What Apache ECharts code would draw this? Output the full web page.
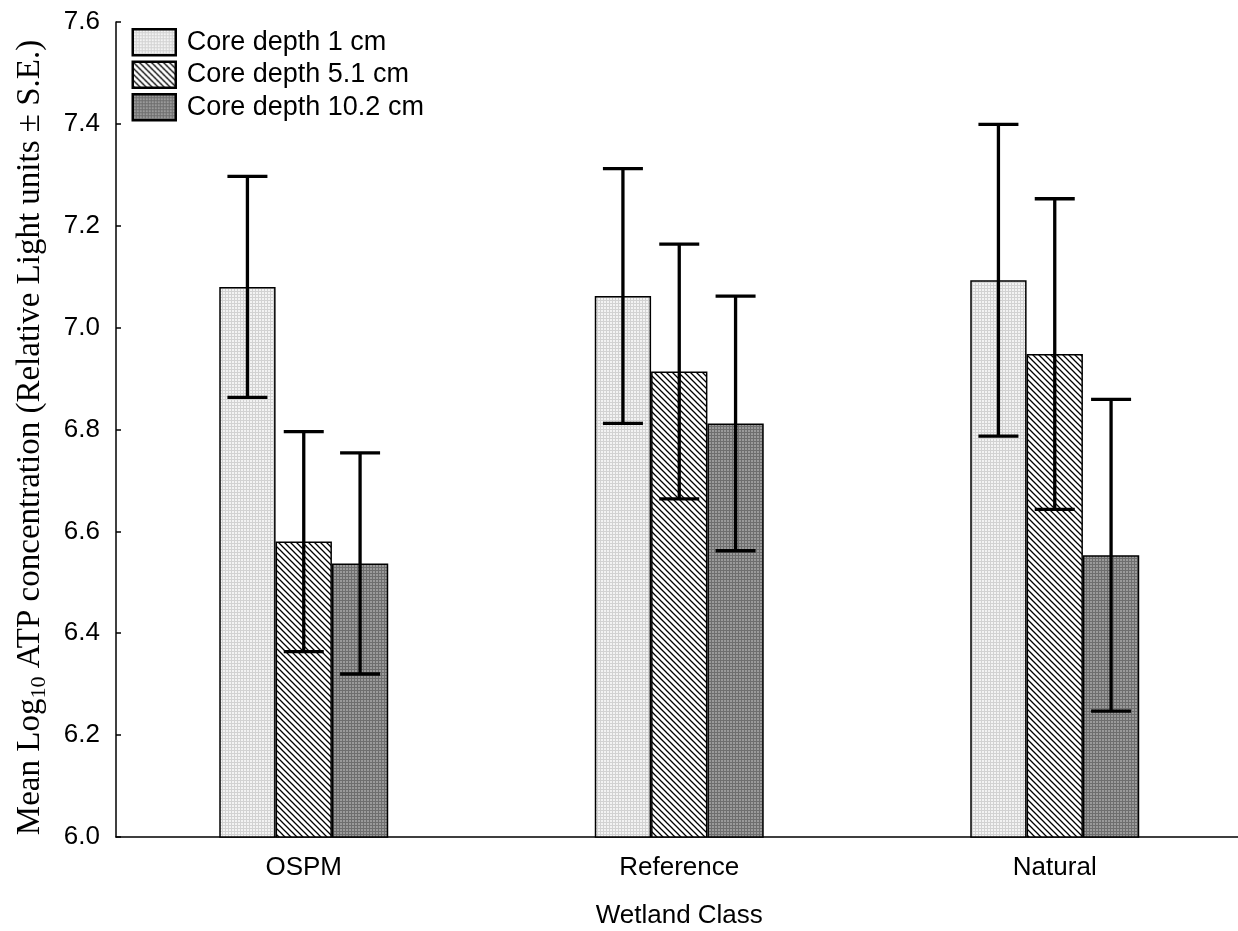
<!DOCTYPE html>
<html>
<head>
<meta charset="utf-8">
<style>
  html, body { margin: 0; padding: 0; background: #ffffff; }
  #chart { width: 1238px; height: 931px; }
</style>
<script src="https://cdn.jsdelivr.net/npm/echarts@6/dist/echarts.min.js"></script>
</head>
<body>
<div id="chart"></div>
<script>
// ---- data ----
const categories = ['OSPM', 'Reference', 'Natural'];
const seriesNames = ['Core depth 1 cm', 'Core depth 5.1 cm', 'Core depth 10.2 cm'];
const depth1  = [7.080, 7.062, 7.093];
const depth5  = [6.580, 6.914, 6.948];
const depth10 = [6.537, 6.812, 6.553];
const se1  = [0.217, 0.250, 0.306];
const se5  = [0.216, 0.250, 0.305];
const se10 = [0.217, 0.250, 0.306];
const yTicks = ['6.0', '6.2', '6.4', '6.6', '6.8', '7.0', '7.2', '7.4', '7.6'];

// ---- fill patterns ----
function dotPattern(bg, fg) {
  const c = document.createElement('canvas');
  c.width = 3; c.height = 3;
  const g = c.getContext('2d');
  g.fillStyle = bg; g.fillRect(0, 0, 3, 3);
  g.fillStyle = fg; g.fillRect(0, 0, 3, 1); g.fillRect(0, 0, 1, 3);
  return c;
}
function hatchPattern() {
  const s = 6;
  const c = document.createElement('canvas');
  c.width = s; c.height = s;
  const g = c.getContext('2d');
  g.fillStyle = '#ffffff'; g.fillRect(0, 0, s, s);
  g.strokeStyle = '#000000'; g.lineWidth = 1.3;
  g.beginPath();
  g.moveTo(-1, -1); g.lineTo(s + 1, s + 1);
  g.moveTo(-1 - s, -1); g.lineTo(1, s + 1);
  g.moveTo(s - 1, -1); g.lineTo(2 * s + 1, s + 1);
  g.stroke();
  return c;
}
const fills = [
  { image: dotPattern('#f3f3f3', '#d2d2d2'), repeat: 'repeat' },
  { image: hatchPattern(), repeat: 'repeat' },
  { image: dotPattern('#9a9a9a', '#6e6e6e'), repeat: 'repeat' }
];

const means = [depth1, depth5, depth10];
const ses = [se1, se5, se10];
const BAR_FRAC = 0.15;

function barSeries(k) {
  return {
    name: seriesNames[k],
    type: 'bar',
    data: means[k],
    barWidth: (BAR_FRAC * 100) + '%',
    barGap: '0%',
    itemStyle: { color: fills[k], borderColor: '#000', borderWidth: 1.5 },
    emphasis: { disabled: true },
    z: 2
  };
}
function errSeries(k) {
  return {
    name: seriesNames[k] + ' SE',
    type: 'custom',
    data: categories.map((c, i) => [i, means[k][i] - ses[k][i], means[k][i] + ses[k][i]]),
    encode: { x: 0, y: [1, 2] },
    z: 5,
    silent: true,
    renderItem: function (params, api) {
      const i = api.value(0);
      const band = api.size([1, 0])[0];
      const off = (k - 1) * band * BAR_FRAC;
      const top = api.coord([i, api.value(2)]);
      const bot = api.coord([i, api.value(1)]);
      const x = top[0] + off;
      const hw = 20;
      const st = { stroke: '#000', lineWidth: 3.3 };
      return {
        type: 'group',
        children: [
          { type: 'line', shape: { x1: x, y1: top[1], x2: x, y2: bot[1] }, style: st },
          { type: 'line', shape: { x1: x - hw, y1: top[1], x2: x + hw, y2: top[1] }, style: st },
          { type: 'line', shape: { x1: x - hw, y1: bot[1], x2: x + hw, y2: bot[1] }, style: st }
        ]
      };
    }
  };
}

const chart = echarts.init(document.getElementById('chart'), null, { renderer: 'canvas' });
chart.setOption({
  animation: false,
  backgroundColor: '#ffffff',
  textStyle: { fontFamily: 'Liberation Sans, Arial, sans-serif', color: '#000' },
  grid: { left: 116, top: 22, width: 1126.5, bottom: 94, containLabel: false, outerBoundsMode: 'none' },
  legend: {
    data: seriesNames,
    orient: 'vertical',
    left: 131.5,
    top: 28,
    padding: 0,
    itemWidth: 43,
    itemHeight: 26,
    itemGap: 4,
    selectedMode: false,
    icon: 'rect',
    itemStyle: { borderColor: '#000', borderWidth: 2.5 },
    textStyle: { fontSize: 27, lineHeight: 26, color: '#000', fontFamily: 'Liberation Sans, Arial, sans-serif', padding: [0, 0, 0, 6] }
  },
  xAxis: {
    type: 'category',
    data: categories,
    name: 'Wetland Class',
    nameLocation: 'middle',
    nameGap: 66,
    nameTextStyle: { fontSize: 26, color: '#000', fontFamily: 'Liberation Sans, Arial, sans-serif' },
    axisLine: { lineStyle: { color: '#000', width: 1.5 } },
    axisTick: { inside: true, alignWithLabel: true, length: 5, lineStyle: { color: '#000', width: 1.5 } },
    axisLabel: { fontSize: 26, color: '#000', margin: 18 },
    splitLine: { show: false }
  },
  yAxis: {
    type: 'value',
    min: 6.0,
    max: 7.6,
    interval: 0.2,
    name: '{a|Mean Log}{s|10}{a| ATP concentration (Relative Light units ± S.E.)}',
    nameLocation: 'middle',
    nameRotate: 90,
    nameGap: 66,
    nameTextStyle: {
      padding: [0, 16, 0, 0],
      rich: {
        a: { fontSize: 33, fontFamily: 'Liberation Serif, Times New Roman, serif', color: '#000', lineHeight: 40, verticalAlign: 'middle' },
        s: { fontSize: 22, fontFamily: 'Liberation Serif, Times New Roman, serif', color: '#000', lineHeight: 20, verticalAlign: 'bottom' }
      }
    },
    axisLine: { show: true, lineStyle: { color: '#000', width: 1.5 } },
    axisTick: { show: true, inside: true, length: 5, lineStyle: { color: '#000', width: 1.5 } },
    axisLabel: {
      fontSize: 26, color: '#000', margin: 16,
      formatter: function (v) { const i = Math.round((v - 6.0) / 0.2); return yTicks[i] !== undefined ? yTicks[i] : v.toFixed(1); }
    },
    splitLine: { show: false }
  },
  series: [barSeries(0), barSeries(1), barSeries(2), errSeries(0), errSeries(1), errSeries(2)]
});
</script>
</body>
</html>
